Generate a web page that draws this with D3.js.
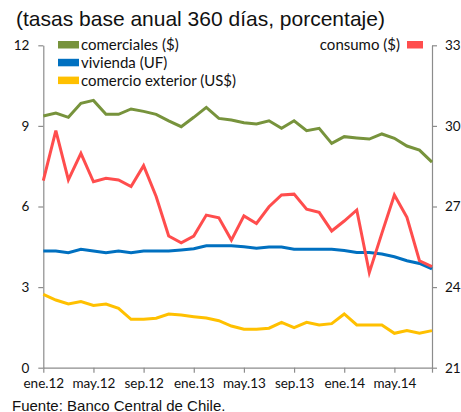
<!DOCTYPE html>
<html>
<head>
<meta charset="utf-8">
<script src="https://cdn.jsdelivr.net/npm/d3@7"></script>
<style>
  body { margin: 0; background: #fff; }
  svg { display: block; }
</style>
</head>
<body>
<div id="chart"></div>
<script>
// Monthly data, ene.12 .. ago.14
var months = ["ene.12","feb.12","mar.12","abr.12","may.12","jun.12","jul.12","ago.12",
              "sep.12","oct.12","nov.12","dic.12","ene.13","feb.13","mar.13","abr.13",
              "may.13","jun.13","jul.13","ago.13","sep.13","oct.13","nov.13","dic.13",
              "ene.14","feb.14","mar.14","abr.14","may.14","jun.14","jul.14","ago.14"];
var tickMonths = ["ene.12","may.12","sep.12","ene.13","may.13","sep.13","ene.14","may.14"];

var comerciales = [9.37,9.48,9.32,9.84,9.95,9.43,9.43,9.63,9.54,9.43,9.19,8.97,
                   9.32,9.69,9.28,9.22,9.12,9.07,9.19,8.91,9.19,8.82,8.91,8.35,
                   8.60,8.55,8.51,8.70,8.54,8.25,8.10,7.65];
var vivienda = [4.34,4.34,4.28,4.41,4.34,4.28,4.34,4.28,4.34,4.34,4.34,4.38,
                4.43,4.54,4.54,4.54,4.50,4.45,4.49,4.49,4.41,4.41,4.41,4.41,
                4.36,4.29,4.29,4.23,4.13,3.98,3.88,3.68];
var comercioExt = [2.73,2.52,2.37,2.46,2.32,2.37,2.21,1.80,1.80,1.84,2.00,1.96,
                   1.90,1.85,1.75,1.55,1.43,1.43,1.47,1.69,1.49,1.69,1.59,1.64,
                   2.00,1.59,1.59,1.59,1.28,1.38,1.28,1.38];
var consumo = [27.96,29.82,27.99,28.98,27.92,28.05,27.99,27.74,28.52,27.37,25.90,25.65,
               25.90,26.68,26.58,25.75,26.65,26.37,26.99,27.43,27.46,26.90,26.78,26.09,
               26.46,26.87,24.54,26.00,27.43,26.60,24.98,24.76];

var leftTicks = [0, 3, 6, 9, 12];
var rightTicks = [21, 24, 27, 30, 33];

var W = 461, H = 412;
var margin = {top: 45.3, right: 29, bottom: 44.3, left: 43.3};
var width = W - margin.left - margin.right,
    height = H - margin.top - margin.bottom;

var svg = d3.select("#chart").append("svg")
    .attr("width", W).attr("height", H);

svg.append("text")
    .attr("x", 16).attr("y", 26)
    .style("font-family", "Liberation Sans, Arial, sans-serif")
    .style("font-size", "21px")
    .style("fill", "#111")
    .text("(tasas base anual 360 días, porcentaje)");

svg.append("text")
    .attr("x", 12).attr("y", 410.5)
    .style("font-family", "Liberation Sans, Arial, sans-serif")
    .style("font-size", "15px")
    .style("fill", "#111")
    .text("Fuente: Banco Central de Chile.");

var g = svg.append("g")
    .attr("transform", "translate(" + margin.left + "," + margin.top + ")");

var x = d3.scalePoint().domain(months).range([0, width]);
var yL = d3.scaleLinear().domain([0, 12]).range([height, 0]);
var yR = d3.scaleLinear().domain([21, 33]).range([height, 0]);

var axisColor = "#8c8c8c";
var tickFont = "Lato, 'Open Sans', sans-serif";

function styleAxis(sel) {
  sel.select(".domain").attr("stroke", axisColor).attr("stroke-width", 1.2);
  sel.selectAll(".tick line").attr("stroke", axisColor).attr("stroke-width", 1.2);
  sel.selectAll(".tick text")
     .style("font-family", tickFont)
     .style("font-size", "13.5px")
     .style("fill", "#111");
}

g.append("g")
    .call(d3.axisLeft(yL).tickValues(leftTicks).tickSize(5).tickSizeOuter(0).tickPadding(9))
    .call(styleAxis);

g.append("g")
    .attr("transform", "translate(" + width + ",0)")
    .call(d3.axisRight(yR).tickValues(rightTicks).tickSize(5).tickSizeOuter(0).tickPadding(8))
    .call(styleAxis);

var xAxis = g.append("g")
    .attr("transform", "translate(0," + height + ")")
    .call(d3.axisBottom(x).tickValues(tickMonths.concat(["ago.14"])).tickSize(5).tickSizeOuter(0).tickPadding(6))
    .call(styleAxis);
xAxis.selectAll(".tick")
    .filter(function(d) { return d === "ago.14"; })
    .select("text").remove();

var series = [
  {name: "comercio exterior (US$)", values: comercioExt, scale: yL, color: "#FFC000"},
  {name: "vivienda (UF)", values: vivienda, scale: yL, color: "#0070C0"},
  {name: "consumo ($)", values: consumo, scale: yR, color: "#FF4D4D"},
  {name: "comerciales ($)", values: comerciales, scale: yL, color: "#77933C"}
];

series.forEach(function(s) {
  var line = d3.line()
      .x(function(d, i) { return x(months[i]); })
      .y(function(d) { return s.scale(d); });
  g.append("path")
      .datum(s.values)
      .attr("fill", "none")
      .attr("stroke", s.color)
      .attr("stroke-width", 3)
      .attr("stroke-linejoin", "miter")
      .attr("d", line);
});

// Left legend
var legendLeft = [series[3], series[1], series[0]];
var leg = svg.append("g").attr("transform", "translate(58,41)");
legendLeft.forEach(function(s, i) {
  leg.append("rect")
      .attr("x", 0).attr("y", i * 17.8)
      .attr("width", 21).attr("height", 7.5)
      .attr("fill", s.color);
  leg.append("text")
      .attr("x", 23).attr("y", i * 17.8 + 9)
      .style("font-family", tickFont)
      .style("font-size", "15px")
      .style("fill", "#111")
      .text(s.name);
});

// Right legend
var legR = svg.append("g").attr("transform", "translate(407,41)");
legR.append("rect")
    .attr("x", 0).attr("y", 0)
    .attr("width", 16).attr("height", 7.5)
    .attr("fill", series[2].color);
legR.append("text")
    .attr("x", -7).attr("y", 9)
    .attr("text-anchor", "end")
    .style("font-family", tickFont)
    .style("font-size", "15px")
    .style("fill", "#111")
    .text(series[2].name);
</script>
</body>
</html>
